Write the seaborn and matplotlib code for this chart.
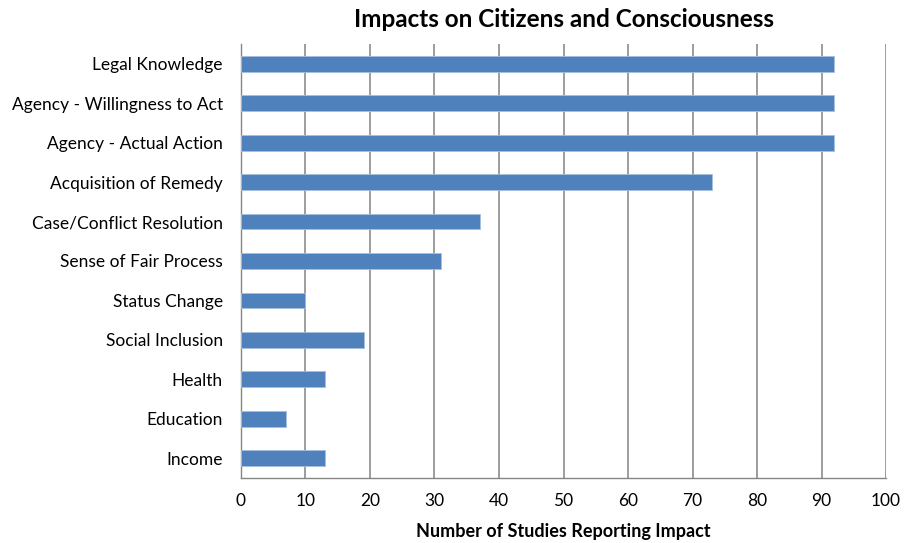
import matplotlib
matplotlib.use("Agg")
import matplotlib.pyplot as plt
import seaborn as sns
import pandas as pd
import numpy as np

categories = ["Legal Knowledge", "Agency - Willingness to Act", "Agency - Actual Action",
              "Acquisition of Remedy", "Case/Conflict Resolution", "Sense of Fair Process",
              "Status Change", "Social Inclusion", "Health", "Education", "Income"]
values = [92, 92, 92, 73, 37, 31, 10, 19, 13, 7, 13]
xticks = [0, 10, 20, 30, 40, 50, 60, 70, 80, 90, 100]

sns.set_theme(style="white")
plt.rcParams['font.family'] = ['Lato', 'DejaVu Sans']
plt.rcParams['text.color'] = 'black'
plt.rcParams['axes.labelcolor'] = 'black'
plt.rcParams['xtick.color'] = 'black'
plt.rcParams['ytick.color'] = 'black'

df = pd.DataFrame({"category": categories, "value": values})

fig = plt.figure(figsize=(9.08, 5.43), dpi=100)
ax = fig.add_axes([0.2654, 0.1197, 0.7104, 0.7993])

sns.barplot(data=df, x="value", y="category", color="#4F81BD", width=0.4,
            saturation=1, ax=ax, zorder=3, edgecolor="#A7BFDE", linewidth=0.6)

ax.set_xlim(0, 100)
ax.set_ylim(len(categories) - 0.5, -0.5)
ax.set_xticks(xticks)
ax.set_xticklabels([str(t) for t in xticks], fontsize=12.5)
ax.tick_params(axis="y", which="major", length=0, labelsize=12.5, pad=13)
ax.set_yticks(np.arange(-0.5, len(categories), 1.0), minor=True)
ax.tick_params(axis="y", which="minor", length=5, color="#868686", width=1)
ax.tick_params(axis="x", which="major", length=5, color="#868686", width=1,
               direction="out", pad=6)

ax.grid(axis="x", color="#8C8C8C", linewidth=1.2, zorder=0)
ax.set_axisbelow(True)
for s in ["top", "right"]:
    ax.spines[s].set_visible(False)
for s in ["left", "bottom"]:
    ax.spines[s].set_color("#868686")
    ax.spines[s].set_linewidth(1)

ax.set_ylabel("")
ax.set_xlabel("Number of Studies Reporting Impact", fontsize=13, fontweight="bold",
              labelpad=10, color="black")
ax.set_title("Impacts on Citizens and Consciousness", fontsize=17.5, fontweight="bold",
             pad=12, color="black")

fig.savefig("out.png", dpi=100)
